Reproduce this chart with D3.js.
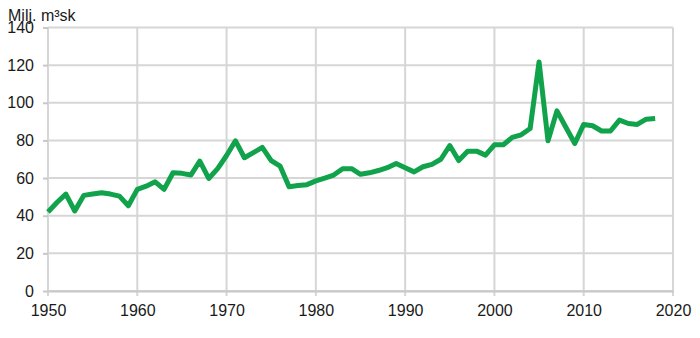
<!DOCTYPE html>
<html>
<head>
<meta charset="utf-8">
<script src="https://cdn.jsdelivr.net/npm/d3@7"></script>
<style>
  body { margin: 0; background: #fff; }
  #chart text { font-family: "Liberation Sans", Arial, sans-serif; fill: #1a1a1a; }
</style>
</head>
<body>
<div id="chart"></div>
<script>
const years = d3.range(1950, 2019)
const values = [
  42, 47, 51.5, 42.5, 50.8, 51.5, 52.2, 51.5, 50.4, 45.3,
  54, 55.7, 58, 54, 62.8, 62.5, 61.6, 69, 59.8, 65,
  72, 79.8, 70.8, 73.5, 76.3, 69.3, 66.3, 55.4, 56, 56.5,
  58.5, 60, 61.6, 65, 65, 62, 62.8, 64, 65.5, 67.7,
  65.5, 63.3, 66, 67.3, 70, 77.3, 69.3, 74.3, 74.3, 72.2,
  77.7, 77.7, 81.6, 83, 86.3, 121.7, 79.8, 95.7, 87, 78.4,
  88.5, 87.8, 85, 85, 90.8, 89, 88.5, 91.3, 91.7
]
const yTicks = [0, 20, 40, 60, 80, 100, 120, 140]
const xTicks = [1950, 1960, 1970, 1980, 1990, 2000, 2010, 2020]
const unitLabel = 'Milj. m³sk'

const width = 700, height = 338
const margin = { top: 27.5, right: 27, bottom: 47, left: 48 }
const innerW = width - margin.left - margin.right
const innerH = height - margin.top - margin.bottom

const svg = d3.select('#chart').append('svg')
  .attr('width', width).attr('height', height)
const g = svg.append('g')
  .attr('transform', 'translate(' + margin.left + ',' + margin.top + ')')

const x = d3.scaleLinear().domain([1950, 2020]).range([0, innerW])
const y = d3.scaleLinear().domain([0, 140]).range([innerH, 0])

// horizontal grid
g.append('g')
  .selectAll('line')
  .data(yTicks)
  .enter()
  .append('line')
  .attr('x1', 0).attr('x2', innerW)
  .attr('y1', d => y(d)).attr('y2', d => y(d))
  .attr('stroke', '#d6d6d6').attr('stroke-width', 2)

// vertical grid
g.append('g')
  .selectAll('line')
  .data(xTicks)
  .enter()
  .append('line')
  .attr('x1', d => x(d)).attr('x2', d => x(d))
  .attr('y1', 0).attr('y2', innerH + 5)
  .attr('stroke', '#d6d6d6').attr('stroke-width', 2)

// y axis
const yAxis = g.append('g')
  .call(d3.axisLeft(y).tickValues(yTicks).tickSize(5).tickPadding(9))
yAxis.select('.domain').remove()
yAxis.selectAll('line').attr('stroke', '#c8c8c8').attr('stroke-width', 2)
yAxis.selectAll('text').attr('font-size', '16px')

// x axis
const xAxis = g.append('g')
  .attr('transform', 'translate(0,' + innerH + ')')
  .call(d3.axisBottom(x).tickValues(xTicks).tickFormat(d3.format('d')).tickSize(0).tickPadding(14))
xAxis.select('.domain').attr('stroke', '#c8c8c8').attr('stroke-width', 2)
xAxis.selectAll('text').attr('font-size', '16px')

// unit label
svg.append('text')
  .attr('x', 8).attr('y', 21)
  .attr('font-size', '16px')
  .text(unitLabel)

// the line
const line = d3.line()
  .x((d, i) => x(years[i]))
  .y(d => y(d))
g.append('path')
  .datum(values)
  .attr('d', line)
  .attr('fill', 'none')
  .attr('stroke', '#11a24c')
  .attr('stroke-width', 5)
  .attr('stroke-linejoin', 'round')
</script>
</body>
</html>
